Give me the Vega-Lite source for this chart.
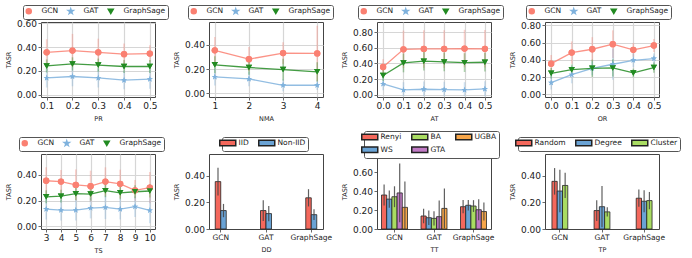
{
"$schema":"https://vega.github.io/schema/vega-lite/v6.json",
"padding":{"left":4,"top":4,"right":2,"bottom":2},
"background":"white",
"datasets":{
"pr":[
{"s":"GCN","x":0.1,"y":0.355,"lo":0.245,"hi":0.465},{"s":"GCN","x":0.2,"y":0.37,"lo":0.23,"hi":0.51},{"s":"GCN","x":0.3,"y":0.355,"lo":0.24,"hi":0.47},{"s":"GCN","x":0.4,"y":0.34,"lo":0.25,"hi":0.43},{"s":"GCN","x":0.5,"y":0.345,"lo":0.275,"hi":0.415},
{"s":"GAT","x":0.1,"y":0.14,"lo":0.06,"hi":0.22},{"s":"GAT","x":0.2,"y":0.152,"lo":0.07,"hi":0.235},{"s":"GAT","x":0.3,"y":0.14,"lo":0.06,"hi":0.22},{"s":"GAT","x":0.4,"y":0.121,"lo":0.045,"hi":0.2},{"s":"GAT","x":0.5,"y":0.13,"lo":0.05,"hi":0.21},
{"s":"GraphSage","x":0.1,"y":0.241,"lo":0.186,"hi":0.296},{"s":"GraphSage","x":0.2,"y":0.258,"lo":0.203,"hi":0.313},{"s":"GraphSage","x":0.3,"y":0.248,"lo":0.193,"hi":0.303},{"s":"GraphSage","x":0.4,"y":0.236,"lo":0.181,"hi":0.291},{"s":"GraphSage","x":0.5,"y":0.236,"lo":0.181,"hi":0.291}],
"nma":[
{"s":"GCN","x":1,"y":0.356,"lo":0.246,"hi":0.466},{"s":"GCN","x":2,"y":0.283,"lo":0.183,"hi":0.383},{"s":"GCN","x":3,"y":0.333,"lo":0.243,"hi":0.423},{"s":"GCN","x":4,"y":0.33,"lo":0.1,"hi":0.56},
{"s":"GAT","x":1,"y":0.136,"lo":0.066,"hi":0.206},{"s":"GAT","x":2,"y":0.119,"lo":0.059,"hi":0.179},{"s":"GAT","x":3,"y":0.067,"lo":0.017,"hi":0.117},{"s":"GAT","x":4,"y":0.067,"lo":0.027,"hi":0.107},
{"s":"GraphSage","x":1,"y":0.236,"lo":0.166,"hi":0.306},{"s":"GraphSage","x":2,"y":0.214,"lo":0.154,"hi":0.274},{"s":"GraphSage","x":3,"y":0.197,"lo":0.107,"hi":0.287},{"s":"GraphSage","x":4,"y":0.178,"lo":0.098,"hi":0.258}],
"at":[
{"s":"GCN","x":0.0,"y":0.354,"lo":0.254,"hi":0.454},{"s":"GCN","x":0.1,"y":0.58,"lo":0.34,"hi":0.82},{"s":"GCN","x":0.2,"y":0.585,"lo":0.345,"hi":0.825},{"s":"GCN","x":0.3,"y":0.585,"lo":0.345,"hi":0.825},{"s":"GCN","x":0.4,"y":0.59,"lo":0.35,"hi":0.83},{"s":"GCN","x":0.5,"y":0.587,"lo":0.347,"hi":0.827},
{"s":"GAT","x":0.0,"y":0.138,"lo":0.058,"hi":0.218},{"s":"GAT","x":0.1,"y":0.06,"lo":-0.02,"hi":0.16},{"s":"GAT","x":0.2,"y":0.069,"lo":-0.02,"hi":0.17},{"s":"GAT","x":0.3,"y":0.065,"lo":-0.02,"hi":0.165},{"s":"GAT","x":0.4,"y":0.06,"lo":-0.02,"hi":0.16},{"s":"GAT","x":0.5,"y":0.073,"lo":-0.02,"hi":0.173},
{"s":"GraphSage","x":0.0,"y":0.246,"lo":0.176,"hi":0.316},{"s":"GraphSage","x":0.1,"y":0.406,"lo":0.286,"hi":0.526},{"s":"GraphSage","x":0.2,"y":0.428,"lo":0.308,"hi":0.548},{"s":"GraphSage","x":0.3,"y":0.419,"lo":0.299,"hi":0.539},{"s":"GraphSage","x":0.4,"y":0.41,"lo":0.29,"hi":0.53},{"s":"GraphSage","x":0.5,"y":0.415,"lo":0.295,"hi":0.535}],
"or":[
{"s":"GCN","x":0.0,"y":0.357,"lo":0.257,"hi":0.457},{"s":"GCN","x":0.1,"y":0.485,"lo":0.355,"hi":0.615},{"s":"GCN","x":0.2,"y":0.524,"lo":0.384,"hi":0.664},{"s":"GCN","x":0.3,"y":0.583,"lo":0.423,"hi":0.743},{"s":"GCN","x":0.4,"y":0.517,"lo":0.437,"hi":0.597},{"s":"GCN","x":0.5,"y":0.567,"lo":0.492,"hi":0.642},
{"s":"GAT","x":0.0,"y":0.136,"lo":0.056,"hi":0.216},{"s":"GAT","x":0.1,"y":0.229,"lo":0.129,"hi":0.329},{"s":"GAT","x":0.2,"y":0.303,"lo":0.223,"hi":0.383},{"s":"GAT","x":0.3,"y":0.35,"lo":0.17,"hi":0.53},{"s":"GAT","x":0.4,"y":0.396,"lo":0.316,"hi":0.476},{"s":"GAT","x":0.5,"y":0.416,"lo":0.356,"hi":0.476},
{"s":"GraphSage","x":0.0,"y":0.245,"lo":0.185,"hi":0.305},{"s":"GraphSage","x":0.1,"y":0.287,"lo":0.227,"hi":0.347},{"s":"GraphSage","x":0.2,"y":0.303,"lo":0.203,"hi":0.403},{"s":"GraphSage","x":0.3,"y":0.307,"lo":0.207,"hi":0.407},{"s":"GraphSage","x":0.4,"y":0.249,"lo":0.199,"hi":0.299},{"s":"GraphSage","x":0.5,"y":0.311,"lo":0.251,"hi":0.371}],
"ts":[
{"s":"GCN","x":3,"y":0.353,"lo":0.248,"hi":0.458},{"s":"GCN","x":4,"y":0.347,"lo":0.257,"hi":0.437},{"s":"GCN","x":5,"y":0.321,"lo":0.201,"hi":0.441},{"s":"GCN","x":6,"y":0.311,"lo":0.191,"hi":0.431},{"s":"GCN","x":7,"y":0.347,"lo":0.237,"hi":0.457},{"s":"GCN","x":8,"y":0.329,"lo":0.219,"hi":0.439},{"s":"GCN","x":9,"y":0.279,"lo":0.199,"hi":0.359},{"s":"GCN","x":10,"y":0.3,"lo":0.18,"hi":0.42},
{"s":"GAT","x":3,"y":0.134,"lo":0.054,"hi":0.214},{"s":"GAT","x":4,"y":0.126,"lo":0.046,"hi":0.206},{"s":"GAT","x":5,"y":0.126,"lo":0.046,"hi":0.206},{"s":"GAT","x":6,"y":0.142,"lo":0.062,"hi":0.222},{"s":"GAT","x":7,"y":0.147,"lo":0.057,"hi":0.237},{"s":"GAT","x":8,"y":0.134,"lo":0.054,"hi":0.214},{"s":"GAT","x":9,"y":0.153,"lo":0.073,"hi":0.233},{"s":"GAT","x":10,"y":0.124,"lo":0.024,"hi":0.224},
{"s":"GraphSage","x":3,"y":0.229,"lo":0.179,"hi":0.279},{"s":"GraphSage","x":4,"y":0.234,"lo":0.184,"hi":0.284},{"s":"GraphSage","x":5,"y":0.253,"lo":0.203,"hi":0.303},{"s":"GraphSage","x":6,"y":0.25,"lo":0.2,"hi":0.3},{"s":"GraphSage","x":7,"y":0.276,"lo":0.226,"hi":0.326},{"s":"GraphSage","x":8,"y":0.26,"lo":0.21,"hi":0.31},{"s":"GraphSage","x":9,"y":0.268,"lo":0.218,"hi":0.318},{"s":"GraphSage","x":10,"y":0.274,"lo":0.224,"hi":0.324}],
"dd":[
{"g":"GCN","s":"IID","y":0.357,"lo":0.252,"hi":0.462},{"g":"GAT","s":"IID","y":0.139,"lo":0.061,"hi":0.217},{"g":"GraphSage","s":"IID","y":0.235,"lo":0.17,"hi":0.3},
{"g":"GCN","s":"Non-IID","y":0.139,"lo":0.089,"hi":0.189},{"g":"GAT","s":"Non-IID","y":0.116,"lo":0.059,"hi":0.173},{"g":"GraphSage","s":"Non-IID","y":0.108,"lo":0.068,"hi":0.148}],
"tt":[
{"g":"GCN","s":"Renyi","y":0.358,"lo":0.248,"hi":0.468},{"g":"GAT","s":"Renyi","y":0.137,"lo":0.061,"hi":0.213},{"g":"GraphSage","s":"Renyi","y":0.235,"lo":0.165,"hi":0.305},
{"g":"GCN","s":"WS","y":0.315,"lo":0.225,"hi":0.405},{"g":"GAT","s":"WS","y":0.119,"lo":0.043,"hi":0.195},{"g":"GraphSage","s":"WS","y":0.25,"lo":0.195,"hi":0.305},
{"g":"GCN","s":"BA","y":0.34,"lo":0.23,"hi":0.45},{"g":"GAT","s":"BA","y":0.112,"lo":0.036,"hi":0.188},{"g":"GraphSage","s":"BA","y":0.242,"lo":0.18,"hi":0.304},
{"g":"GCN","s":"GTA","y":0.38,"lo":0.07,"hi":0.69},{"g":"GAT","s":"GTA","y":0.13,"lo":0.0,"hi":0.3},{"g":"GraphSage","s":"GTA","y":0.203,"lo":0.093,"hi":0.313},
{"g":"GCN","s":"UGBA","y":0.228,"lo":0.0,"hi":0.5},{"g":"GAT","s":"UGBA","y":0.217,"lo":0.007,"hi":0.427},{"g":"GraphSage","s":"UGBA","y":0.184,"lo":0.089,"hi":0.279}],
"tp":[
{"g":"GCN","s":"Random","y":0.359,"lo":0.259,"hi":0.459},{"g":"GAT","s":"Random","y":0.139,"lo":0.061,"hi":0.217},{"g":"GraphSage","s":"Random","y":0.232,"lo":0.167,"hi":0.297},
{"g":"GCN","s":"Degree","y":0.286,"lo":0.126,"hi":0.446},{"g":"GAT","s":"Degree","y":0.168,"lo":0.013,"hi":0.323},{"g":"GraphSage","s":"Degree","y":0.209,"lo":0.126,"hi":0.292},
{"g":"GCN","s":"Cluster","y":0.328,"lo":0.233,"hi":0.423},{"g":"GAT","s":"Cluster","y":0.129,"lo":0.094,"hi":0.164},{"g":"GraphSage","s":"Cluster","y":0.214,"lo":0.149,"hi":0.279}]
},
"columns":4,
"spacing":{"row":57,"column":54},
"bounds":"flush",
"concat":[
{"width":114,"height":75,"data":{"name":"pr"},
 "encoding":{
  "x":{"field":"x","type":"quantitative","title":"PR","scale":{"domain":[0.078,0.52],"nice":false,"zero":false},"axis":{"values":[0.1,0.2,0.3,0.4,0.5],"tickCount":10,"format":".1f","grid":true}},
  "color":{"field":"s","type":"nominal","scale":{"domain":["GCN","GAT","GraphSage"],"range":["#fa8072","#7fb2dd","#228b22"]},
   "legend":{"title":null,"legendX":-18,"legendY":-17,"columns":3,"encode":{"symbols":{"shape":{"value":{"expr":"datum.value==='GCN'?'M-4,0L4,0M-1.1,0A1.1,1.1,0,1,0,1.1,0A1.1,1.1,0,1,0,-1.1,0Z':datum.value==='GAT'?'M-4,0L4,0M0,-1.4L0.313,-0.43L1.331,-0.433L0.506,0.164L0.823,1.133L0,0.532L-0.823,1.133L-0.506,0.164L-1.331,-0.433L-0.313,-0.43Z':'M-4,0L4,0M-1.25,-1.05L1.25,-1.05L0,1.2Z'"}},"fill":{"value":{"expr":"datum.value==='GCN'?'#fa8072':datum.value==='GAT'?'#7fb2dd':'#228b22'"}},"stroke":{"value":{"expr":"datum.value==='GCN'?'#fa8072':datum.value==='GAT'?'#7fb2dd':'#228b22'"}},"strokeWidth":{"value":1.2},"opacity":{"value":1}}}}}
 },
 "layer":[
  {"mark":{"type":"point","filled":true,"size":40,"opacity":1},"encoding":{"y":{"field":"y","type":"quantitative","title":"TASR","scale":{"domain":[-0.02,0.61],"nice":false,"zero":false},"axis":{"values":[0,0.2,0.4,0.6],"tickCount":10,"format":".2f","grid":true,"labelOverlap":false}},"shape":{"field":"s","type":"nominal","scale":{"domain":["GCN","GAT","GraphSage"],"range":["circle","M0,-1L0.223,-0.307L0.951,-0.309L0.361,0.117L0.588,0.809L0,0.38L-0.588,0.809L-0.361,0.117L-0.951,-0.309L-0.223,-0.307Z","triangle-down"]},"legend":null}}},
  {"mark":{"type":"rule","strokeWidth":1.6,"opacity":0.35},"encoding":{"y":{"field":"lo","type":"quantitative","title":"TASR","axis":{"values":[0,0.2,0.4,0.6],"tickCount":10,"format":".2f","grid":true,"labelOverlap":false}},"y2":{"field":"hi"}}},
  {"mark":{"type":"line","strokeWidth":1.3,"opacity":0.85},"encoding":{"y":{"field":"y","type":"quantitative","title":"TASR","axis":{"values":[0,0.2,0.4,0.6],"tickCount":10,"format":".2f","grid":true,"labelOverlap":false}}}},
  {"mark":{"type":"point","filled":true,"size":40,"opacity":1},"encoding":{"y":{"field":"y","type":"quantitative","title":"TASR","axis":{"values":[0,0.2,0.4,0.6],"tickCount":10,"format":".2f","grid":true,"labelOverlap":false}},"shape":{"field":"s","type":"nominal","legend":null}}}
 ]},
{"width":114,"height":75,"data":{"name":"nma"},
 "encoding":{
  "x":{"field":"x","type":"quantitative","title":"NMA","scale":{"domain":[0.83,4.17],"nice":false,"zero":false},"axis":{"values":[1,2,3,4],"tickCount":10,"format":"d","grid":true}},
  "color":{"field":"s","type":"nominal","scale":{"domain":["GCN","GAT","GraphSage"],"range":["#fa8072","#7fb2dd","#228b22"]},
   "legend":{"title":null,"legendX":-21,"legendY":-17,"columns":3,"encode":{"symbols":{"shape":{"value":{"expr":"datum.value==='GCN'?'M-4,0L4,0M-1.1,0A1.1,1.1,0,1,0,1.1,0A1.1,1.1,0,1,0,-1.1,0Z':datum.value==='GAT'?'M-4,0L4,0M0,-1.4L0.313,-0.43L1.331,-0.433L0.506,0.164L0.823,1.133L0,0.532L-0.823,1.133L-0.506,0.164L-1.331,-0.433L-0.313,-0.43Z':'M-4,0L4,0M-1.25,-1.05L1.25,-1.05L0,1.2Z'"}},"fill":{"value":{"expr":"datum.value==='GCN'?'#fa8072':datum.value==='GAT'?'#7fb2dd':'#228b22'"}},"stroke":{"value":{"expr":"datum.value==='GCN'?'#fa8072':datum.value==='GAT'?'#7fb2dd':'#228b22'"}},"strokeWidth":{"value":1.2},"opacity":{"value":1}}}}}
 },
 "layer":[
  {"mark":{"type":"point","filled":true,"size":40,"opacity":1},"encoding":{"y":{"field":"y","type":"quantitative","title":"TASR","scale":{"domain":[-0.03,0.59],"nice":false,"zero":false},"axis":{"values":[0,0.2,0.4],"tickCount":10,"format":".2f","grid":true,"labelOverlap":false}},"shape":{"field":"s","type":"nominal","scale":{"domain":["GCN","GAT","GraphSage"],"range":["circle","M0,-1L0.223,-0.307L0.951,-0.309L0.361,0.117L0.588,0.809L0,0.38L-0.588,0.809L-0.361,0.117L-0.951,-0.309L-0.223,-0.307Z","triangle-down"]},"legend":null}}},
  {"mark":{"type":"rule","strokeWidth":1.6,"opacity":0.35},"encoding":{"y":{"field":"lo","type":"quantitative","title":"TASR","axis":{"values":[0,0.2,0.4],"tickCount":10,"format":".2f","grid":true,"labelOverlap":false}},"y2":{"field":"hi"}}},
  {"mark":{"type":"line","strokeWidth":1.3,"opacity":0.85},"encoding":{"y":{"field":"y","type":"quantitative","title":"TASR","axis":{"values":[0,0.2,0.4],"tickCount":10,"format":".2f","grid":true,"labelOverlap":false}}}},
  {"mark":{"type":"point","filled":true,"size":40,"opacity":1},"encoding":{"y":{"field":"y","type":"quantitative","title":"TASR","axis":{"values":[0,0.2,0.4],"tickCount":10,"format":".2f","grid":true,"labelOverlap":false}},"shape":{"field":"s","type":"nominal","legend":null}}}
 ]},
{"width":114,"height":75,"data":{"name":"at"},
 "encoding":{
  "x":{"field":"x","type":"quantitative","title":"AT","scale":{"domain":[-0.03,0.53],"nice":false,"zero":false},"axis":{"values":[0,0.1,0.2,0.3,0.4,0.5],"tickCount":10,"format":".1f","grid":true}},
  "color":{"field":"s","type":"nominal","scale":{"domain":["GCN","GAT","GraphSage"],"range":["#fa8072","#7fb2dd","#228b22"]},
   "legend":{"title":null,"legendX":-19,"legendY":-17,"columns":3,"encode":{"symbols":{"shape":{"value":{"expr":"datum.value==='GCN'?'M-4,0L4,0M-1.1,0A1.1,1.1,0,1,0,1.1,0A1.1,1.1,0,1,0,-1.1,0Z':datum.value==='GAT'?'M-4,0L4,0M0,-1.4L0.313,-0.43L1.331,-0.433L0.506,0.164L0.823,1.133L0,0.532L-0.823,1.133L-0.506,0.164L-1.331,-0.433L-0.313,-0.43Z':'M-4,0L4,0M-1.25,-1.05L1.25,-1.05L0,1.2Z'"}},"fill":{"value":{"expr":"datum.value==='GCN'?'#fa8072':datum.value==='GAT'?'#7fb2dd':'#228b22'"}},"stroke":{"value":{"expr":"datum.value==='GCN'?'#fa8072':datum.value==='GAT'?'#7fb2dd':'#228b22'"}},"strokeWidth":{"value":1.2},"opacity":{"value":1}}}}}
 },
 "layer":[
  {"mark":{"type":"point","filled":true,"size":40,"opacity":1},"encoding":{"y":{"field":"y","type":"quantitative","title":"TASR","scale":{"domain":[-0.03,0.93],"nice":false,"zero":false},"axis":{"values":[0,0.2,0.4,0.6,0.8],"tickCount":10,"format":".2f","grid":true,"labelOverlap":false}},"shape":{"field":"s","type":"nominal","scale":{"domain":["GCN","GAT","GraphSage"],"range":["circle","M0,-1L0.223,-0.307L0.951,-0.309L0.361,0.117L0.588,0.809L0,0.38L-0.588,0.809L-0.361,0.117L-0.951,-0.309L-0.223,-0.307Z","triangle-down"]},"legend":null}}},
  {"mark":{"type":"rule","strokeWidth":1.6,"opacity":0.35},"encoding":{"y":{"field":"lo","type":"quantitative","title":"TASR","axis":{"values":[0,0.2,0.4,0.6,0.8],"tickCount":10,"format":".2f","grid":true,"labelOverlap":false}},"y2":{"field":"hi"}}},
  {"mark":{"type":"line","strokeWidth":1.3,"opacity":0.85},"encoding":{"y":{"field":"y","type":"quantitative","title":"TASR","axis":{"values":[0,0.2,0.4,0.6,0.8],"tickCount":10,"format":".2f","grid":true,"labelOverlap":false}}}},
  {"mark":{"type":"point","filled":true,"size":40,"opacity":1},"encoding":{"y":{"field":"y","type":"quantitative","title":"TASR","axis":{"values":[0,0.2,0.4,0.6,0.8],"tickCount":10,"format":".2f","grid":true,"labelOverlap":false}},"shape":{"field":"s","type":"nominal","legend":null}}}
 ]},
{"width":114,"height":75,"data":{"name":"or"},
 "encoding":{
  "x":{"field":"x","type":"quantitative","title":"OR","scale":{"domain":[-0.03,0.525],"nice":false,"zero":false},"axis":{"values":[0,0.1,0.2,0.3,0.4,0.5],"tickCount":10,"format":".1f","grid":true}},
  "color":{"field":"s","type":"nominal","scale":{"domain":["GCN","GAT","GraphSage"],"range":["#fa8072","#7fb2dd","#228b22"]},
   "legend":{"title":null,"legendX":-19,"legendY":-17,"columns":3,"encode":{"symbols":{"shape":{"value":{"expr":"datum.value==='GCN'?'M-4,0L4,0M-1.1,0A1.1,1.1,0,1,0,1.1,0A1.1,1.1,0,1,0,-1.1,0Z':datum.value==='GAT'?'M-4,0L4,0M0,-1.4L0.313,-0.43L1.331,-0.433L0.506,0.164L0.823,1.133L0,0.532L-0.823,1.133L-0.506,0.164L-1.331,-0.433L-0.313,-0.43Z':'M-4,0L4,0M-1.25,-1.05L1.25,-1.05L0,1.2Z'"}},"fill":{"value":{"expr":"datum.value==='GCN'?'#fa8072':datum.value==='GAT'?'#7fb2dd':'#228b22'"}},"stroke":{"value":{"expr":"datum.value==='GCN'?'#fa8072':datum.value==='GAT'?'#7fb2dd':'#228b22'"}},"strokeWidth":{"value":1.2},"opacity":{"value":1}}}}}
 },
 "layer":[
  {"mark":{"type":"point","filled":true,"size":40,"opacity":1},"encoding":{"y":{"field":"y","type":"quantitative","title":"TASR","scale":{"domain":[-0.03,0.84],"nice":false,"zero":false},"axis":{"values":[0,0.2,0.4,0.6,0.8],"tickCount":10,"format":".2f","grid":true,"labelOverlap":false}},"shape":{"field":"s","type":"nominal","scale":{"domain":["GCN","GAT","GraphSage"],"range":["circle","M0,-1L0.223,-0.307L0.951,-0.309L0.361,0.117L0.588,0.809L0,0.38L-0.588,0.809L-0.361,0.117L-0.951,-0.309L-0.223,-0.307Z","triangle-down"]},"legend":null}}},
  {"mark":{"type":"rule","strokeWidth":1.6,"opacity":0.35},"encoding":{"y":{"field":"lo","type":"quantitative","title":"TASR","axis":{"values":[0,0.2,0.4,0.6,0.8],"tickCount":10,"format":".2f","grid":true,"labelOverlap":false}},"y2":{"field":"hi"}}},
  {"mark":{"type":"line","strokeWidth":1.3,"opacity":0.85},"encoding":{"y":{"field":"y","type":"quantitative","title":"TASR","axis":{"values":[0,0.2,0.4,0.6,0.8],"tickCount":10,"format":".2f","grid":true,"labelOverlap":false}}}},
  {"mark":{"type":"point","filled":true,"size":40,"opacity":1},"encoding":{"y":{"field":"y","type":"quantitative","title":"TASR","axis":{"values":[0,0.2,0.4,0.6,0.8],"tickCount":10,"format":".2f","grid":true,"labelOverlap":false}},"shape":{"field":"s","type":"nominal","legend":null}}}
 ]},
{"width":114,"height":75,"data":{"name":"ts"},
 "encoding":{
  "x":{"field":"x","type":"quantitative","title":"TS","scale":{"domain":[2.65,10.35],"nice":false,"zero":false},"axis":{"values":[3,4,5,6,7,8,9,10],"tickCount":10,"format":"d","grid":true}},
  "color":{"field":"s","type":"nominal","scale":{"domain":["GCN","GAT","GraphSage"],"range":["#fa8072","#7fb2dd","#228b22"]},
   "legend":{"title":null,"legendX":-22,"legendY":-17,"columns":3,"encode":{"symbols":{"shape":{"value":{"expr":"datum.value==='GCN'?'M-4,0L4,0M-1.1,0A1.1,1.1,0,1,0,1.1,0A1.1,1.1,0,1,0,-1.1,0Z':datum.value==='GAT'?'M-4,0L4,0M0,-1.4L0.313,-0.43L1.331,-0.433L0.506,0.164L0.823,1.133L0,0.532L-0.823,1.133L-0.506,0.164L-1.331,-0.433L-0.313,-0.43Z':'M-4,0L4,0M-1.25,-1.05L1.25,-1.05L0,1.2Z'"}},"fill":{"value":{"expr":"datum.value==='GCN'?'#fa8072':datum.value==='GAT'?'#7fb2dd':'#228b22'"}},"stroke":{"value":{"expr":"datum.value==='GCN'?'#fa8072':datum.value==='GAT'?'#7fb2dd':'#228b22'"}},"strokeWidth":{"value":1.2},"opacity":{"value":1}}}}}
 },
 "layer":[
  {"mark":{"type":"point","filled":true,"size":40,"opacity":1},"encoding":{"y":{"field":"y","type":"quantitative","title":"TASR","scale":{"domain":[-0.02,0.56],"nice":false,"zero":false},"axis":{"values":[0,0.2,0.4],"tickCount":10,"format":".2f","grid":true,"labelOverlap":false}},"shape":{"field":"s","type":"nominal","scale":{"domain":["GCN","GAT","GraphSage"],"range":["circle","M0,-1L0.223,-0.307L0.951,-0.309L0.361,0.117L0.588,0.809L0,0.38L-0.588,0.809L-0.361,0.117L-0.951,-0.309L-0.223,-0.307Z","triangle-down"]},"legend":null}}},
  {"mark":{"type":"rule","strokeWidth":1.6,"opacity":0.35},"encoding":{"y":{"field":"lo","type":"quantitative","title":"TASR","axis":{"values":[0,0.2,0.4],"tickCount":10,"format":".2f","grid":true,"labelOverlap":false}},"y2":{"field":"hi"}}},
  {"mark":{"type":"line","strokeWidth":1.3,"opacity":0.85},"encoding":{"y":{"field":"y","type":"quantitative","title":"TASR","axis":{"values":[0,0.2,0.4],"tickCount":10,"format":".2f","grid":true,"labelOverlap":false}}}},
  {"mark":{"type":"point","filled":true,"size":40,"opacity":1},"encoding":{"y":{"field":"y","type":"quantitative","title":"TASR","axis":{"values":[0,0.2,0.4],"tickCount":10,"format":".2f","grid":true,"labelOverlap":false}},"shape":{"field":"s","type":"nominal","legend":null}}}
 ]},
{"width":114,"height":75,"data":{"name":"dd"},
 "encoding":{
  "x":{"field":"g","type":"nominal","title":"DD","scale":{"domain":["GCN","GAT","GraphSage"],"paddingInner":0.757,"paddingOuter":0.138},"axis":{"labelAngle":0,"grid":false,"labelFontSize":7.5}},
  "xOffset":{"field":"s","type":"nominal","scale":{"domain":["IID","Non-IID"],"paddingInner":0,"paddingOuter":0}}
 },
 "layer":[
  {"mark":{"type":"bar","stroke":"#222","strokeWidth":0.8},"encoding":{"y":{"field":"y","type":"quantitative","title":"TASR","scale":{"domain":[0,0.565],"nice":false,"zero":false},"axis":{"values":[0,0.2,0.4],"tickCount":10,"format":".2f","grid":false,"labelOverlap":false}},
    "color":{"field":"s","type":"nominal","scale":{"domain":["IID","Non-IID"],"range":["#f4685c","#6aa3d5"]},"legend":{"title":null,"legendX":13,"legendY":-17,"columns":2,"labelOffset":7,"symbolType":"M-3.2,-1.1L3.2,-1.1L3.2,1.1L-3.2,1.1Z","encode":{"symbols":{"stroke":{"value":"#222"},"strokeWidth":{"value":0.8},"opacity":{"value":1}}}}}}},
  {"mark":{"type":"rule","color":"#444","strokeWidth":1.2,"opacity":0.85},"encoding":{"y":{"field":"lo","type":"quantitative","title":"TASR","axis":{"values":[0,0.2,0.4],"tickCount":10,"format":".2f","grid":false,"labelOverlap":false}},"y2":{"field":"hi"}}}
 ]},
{"width":114,"height":75,"data":{"name":"tt"},
 "encoding":{
  "x":{"field":"g","type":"nominal","title":"TT","scale":{"domain":["GCN","GAT","GraphSage"],"paddingInner":0.342,"paddingOuter":0.114},"axis":{"labelAngle":0,"grid":false,"labelFontSize":7.5}},
  "xOffset":{"field":"s","type":"nominal","scale":{"domain":["Renyi","WS","BA","GTA","UGBA"],"paddingInner":0,"paddingOuter":0}}
 },
 "layer":[
  {"mark":{"type":"bar","stroke":"#222","strokeWidth":0.8},"encoding":{"y":{"field":"y","type":"quantitative","title":"TASR","scale":{"domain":[0,0.79],"nice":false,"zero":false},"axis":{"values":[0,0.2,0.4,0.6],"tickCount":10,"format":".2f","grid":false,"labelOverlap":false}},
    "color":{"field":"s","type":"nominal","scale":{"domain":["Renyi","BA","UGBA","WS","GTA"],"range":["#f4685c","#a9dc62","#f7a64a","#6aa3d5","#c07ac4"]},"legend":{"title":null,"legendX":-13,"legendY":-23,"columns":3,"labelOffset":7,"symbolType":"M-3.2,-1.1L3.2,-1.1L3.2,1.1L-3.2,1.1Z","encode":{"symbols":{"stroke":{"value":"#222"},"strokeWidth":{"value":0.8},"opacity":{"value":1}}}}}}},
  {"mark":{"type":"rule","color":"#444","strokeWidth":1.2,"opacity":0.85},"encoding":{"y":{"field":"lo","type":"quantitative","title":"TASR","axis":{"values":[0,0.2,0.4,0.6],"tickCount":10,"format":".2f","grid":false,"labelOverlap":false}},"y2":{"field":"hi"}}}
 ]},
{"width":114,"height":75,"data":{"name":"tp"},
 "encoding":{
  "x":{"field":"g","type":"nominal","title":"TP","scale":{"domain":["GCN","GAT","GraphSage"],"paddingInner":0.624,"paddingOuter":0.165},"axis":{"labelAngle":0,"grid":false,"labelFontSize":7.5}},
  "xOffset":{"field":"s","type":"nominal","scale":{"domain":["Random","Degree","Cluster"],"paddingInner":0,"paddingOuter":0}}
 },
 "layer":[
  {"mark":{"type":"bar","stroke":"#222","strokeWidth":0.8},"encoding":{"y":{"field":"y","type":"quantitative","title":"TASR","scale":{"domain":[0,0.565],"nice":false,"zero":false},"axis":{"values":[0,0.2,0.4],"tickCount":10,"format":".2f","grid":false,"labelOverlap":false}},
    "color":{"field":"s","type":"nominal","scale":{"domain":["Random","Degree","Cluster"],"range":["#f4685c","#6aa3d5","#a9dc62"]},"legend":{"title":null,"legendX":-27,"legendY":-17,"columns":3,"labelOffset":7,"symbolType":"M-3.2,-1.1L3.2,-1.1L3.2,1.1L-3.2,1.1Z","encode":{"symbols":{"stroke":{"value":"#222"},"strokeWidth":{"value":0.8},"opacity":{"value":1}}}}}}},
  {"mark":{"type":"rule","color":"#444","strokeWidth":1.2,"opacity":0.85},"encoding":{"y":{"field":"lo","type":"quantitative","title":"TASR","axis":{"values":[0,0.2,0.4],"tickCount":10,"format":".2f","grid":false,"labelOverlap":false}},"y2":{"field":"hi"}}}
 ]}
],
"resolve":{"scale":{"color":"independent","shape":"independent","xOffset":"independent"},"legend":{"color":"independent","shape":"independent"}},
"config":{
 "font":"DejaVu Sans",
 "view":{"stroke":"#444","strokeWidth":1},
 "axis":{"labelFont":"DejaVu Sans","labelFontSize":9,"labelColor":"#222","labelOverlap":false,"titleFont":"DejaVu Sans","titleFontSize":6.5,"titleFontWeight":"normal","titleColor":"#222","tickColor":"#444","tickSize":3,"tickWidth":0.8,"labelPadding":1.5,"domain":false,"gridColor":"#d6d6d6","gridWidth":1.2},
 "axisX":{"titlePadding":5},
 "axisY":{"titlePadding":5},
 "legend":{"orient":"none","direction":"horizontal","labelFont":"DejaVu Sans","labelFontSize":7.5,"labelColor":"#222","strokeColor":"#555","cornerRadius":2,"padding":2,"fillColor":"#ffffff","symbolSize":25,"labelOffset":9,"columnPadding":6,"rowPadding":1}
}
}
